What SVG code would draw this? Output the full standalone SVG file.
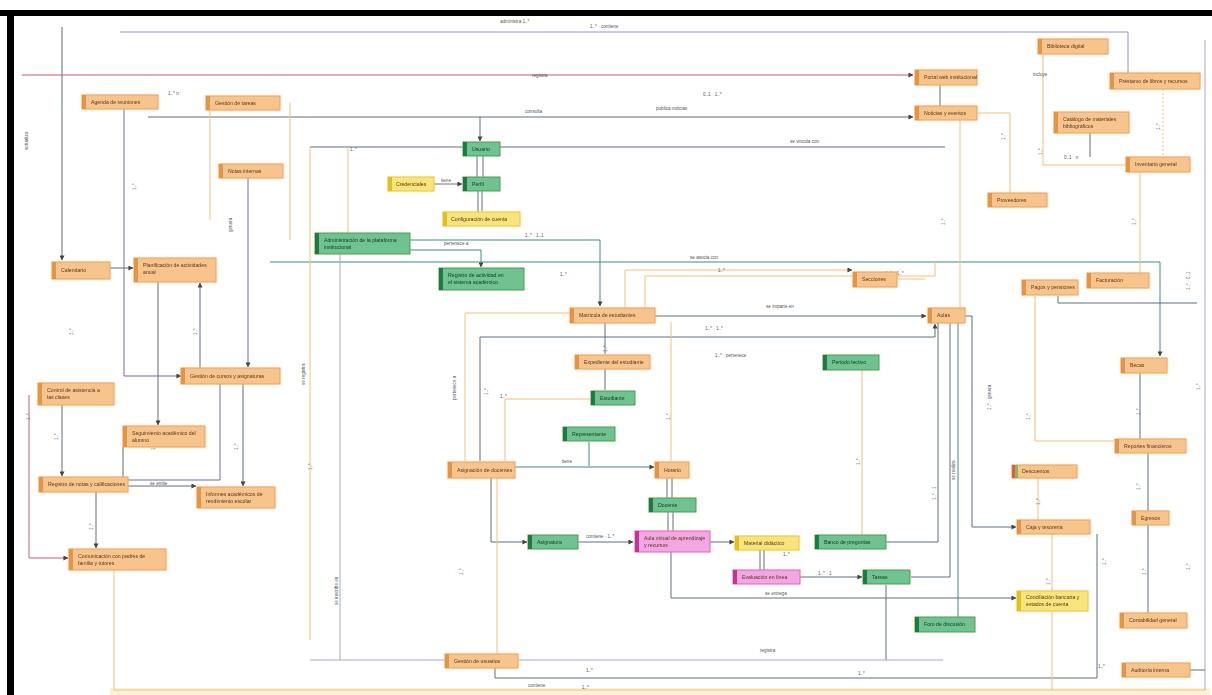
<svg xmlns="http://www.w3.org/2000/svg" width="1212" height="695" viewBox="0 0 1212 695">
<style>
.b{stroke-width:1}
.node{filter:url(#glow)}
.o .b{fill:#f7c48e;stroke:#eba35e}.o .s{fill:#e39445}
.g .b{fill:#6fc290;stroke:#3f9e66}.g .s{fill:#1f7a45}
.y .b{fill:#f8e47c;stroke:#e6cc3c}.y .s{fill:#e0bf24}
.p .b{fill:#f2a6e2;stroke:#dc66c4}.p .s{fill:#c4309c}
text{font-family:"Liberation Sans",Arial,sans-serif}
.node text{font-size:5.2px;fill:#5a3a1a}
.g text{fill:#0f3d22}
.lb{font-size:4.6px;fill:#555}
.c path{fill:none;stroke-width:1}
.sl{stroke:#5f6f80}.tl{stroke:#3f8a8a}.or{stroke:#f2c27e}.bl{stroke:#9096c2;stroke-width:1.5}.mr{stroke:#c0607a}.pu{stroke:#7a6a98}.gr{stroke:#a6acb4}.lg{stroke:#a4aac8;stroke-width:1.5}
</style>
<defs>
<marker id="a" viewBox="0 0 6 6" refX="5.5" refY="3" markerWidth="5" markerHeight="5" orient="auto"><path d="M0,0 L6,3 L0,6 z" fill="#444"/></marker>
<filter id="glow" x="-20%" y="-40%" width="140%" height="180%"><feGaussianBlur in="SourceAlpha" stdDeviation="1.5" result="bl"/><feFlood flood-color="#f6c27c" flood-opacity="0.45"/><feComposite in2="bl" operator="in" result="gl"/><feMerge><feMergeNode in="gl"/><feMergeNode in="SourceGraphic"/></feMerge></filter>
</defs>
<rect width="1212" height="695" fill="#fff"/>
<rect x="110" y="688" width="1100" height="7" fill="#fbf1d6"/>
<rect x="0" y="10" width="1212" height="6" fill="#000"/>
<rect x="7" y="10" width="7" height="685" fill="#000"/>

<g id="connectors" class="c">
<path class="bl" d="M120,32 H1128 V73"/>
<path class="mr" d="M22,75 H913" marker-end="url(#a)"/>
<path class="sl" d="M62,27 V260" marker-end="url(#a)"/>
<path class="sl" d="M148,117 H913" marker-end="url(#a)"/>
<path class="sl" d="M480,117 V141" marker-end="url(#a)"/>
<path class="sl" d="M310,147 H945"/>
<path class="sl" d="M477,156 V177 M483,156 V177"/>
<path class="pu" d="M434,184 H462" marker-end="url(#a)"/>
<path class="sl" d="M478,191 V212 M482,191 V211"/>
<path class="or" d="M348,233 V147"/>
<path class="tl" d="M410,240 H600 V306" marker-end="url(#a)"/>
<path class="tl" d="M410,250 H481 V267" marker-end="url(#a)"/>
<path class="tl" d="M270,262 H1160 V356" marker-end="url(#a)"/>
<path class="sl" d="M655,316 H926" marker-end="url(#a)"/>
<path class="sl" d="M480,461 V337 H935 V324" marker-end="url(#a)"/>
<path class="sl" d="M605,323 V354 M605,369 V390"/>
<path class="or" d="M592,399 H505 V461"/>
<path class="tl" d="M589,442 V466 M515,467 H654" marker-end="url(#a)"/>
<path class="or" d="M671,322 V461"/>
<path class="sl" d="M667,478 V498 M672,478 V498 M668,512 V531 M673,512 V531"/>
<path class="sl" d="M491,478 V542 H527" marker-end="url(#a)"/>
<path class="sl" d="M578,542 H633" marker-end="url(#a)"/>
<path class="sl" d="M710,542 H734" marker-end="url(#a)"/>
<path class="sl" d="M760,550 V570 M764,550 V570"/>
<path class="sl" d="M800,577 H862" marker-end="url(#a)"/>
<path class="sl" d="M671,552 V598 H1016" marker-end="url(#a)"/>
<path class="sl" d="M886,585 V660"/>
<path class="or" d="M862,370 V535"/>
<path class="sl" d="M886,542 H938 V323"/>
<path class="sl" d="M911,577 H950 V323"/>
<path class="tl" d="M958,617 V323"/>
<path class="or" d="M497,478 V654"/>
<path class="lg" d="M310,660 H943"/>
<path class="sl" d="M495,668 V678 H1097 V534"/>
<path class="gr" d="M340,254 V660"/>
<path class="or" d="M310,147 V640"/>
<path class="sl" d="M940,85 V106"/>
<path class="or" d="M960,120 V308"/>
<path class="or" d="M977,113 H1010 V193"/>
<path class="or" d="M1043,54 V165 H1126"/>
<path class="sl" d="M1090,133 V157"/>
<path class="or" d="M1163,89 V157" stroke-dasharray="2 2"/>
<path class="or" d="M1140,172 V273"/>
<path class="sl" d="M1197,303 H1058 V296"/>
<path class="or" d="M1035,296 V441 H1114"/>
<path class="sl" d="M1140,373 V439"/>
<path class="sl" d="M1148,453 V511 M1148,525 V613"/>
<path class="gr" d="M1205,40 V690"/>
<path class="or" d="M1038,478 V520"/>
<path class="or" d="M1052,534 V591 M1052,611 V690"/>
<path class="sl" d="M965,316 H972 V527 H1016" marker-end="url(#a)"/>
<path class="sl" d="M1190,670 H1205"/>
<path class="or" d="M114,570 V690 H1205"/>
<path class="pu" d="M124,108 V376 H181" marker-end="url(#a)"/>
<path class="or" d="M210,110 V220"/>
<path class="or" d="M290,103 V240"/>
<path class="pu" d="M248,178 V367" marker-end="url(#a)"/>
<path class="sl" d="M110,268 H133" marker-end="url(#a)"/>
<path class="sl" d="M158,282 V425" marker-end="url(#a)"/>
<path class="sl" d="M200,368 V283" marker-end="url(#a)"/>
<path class="sl" d="M62,405 V476" marker-end="url(#a)"/>
<path class="mr" d="M29,395 V558 H68" marker-end="url(#a)"/>
<path class="sl" d="M96,492 V548" marker-end="url(#a)"/>
<path class="sl" d="M128,486 H196" marker-end="url(#a)"/>
<path class="sl" d="M123,447 V477"/>
<path class="pu" d="M128,480 H220 V384"/>
<path class="sl" d="M243,384 V486" marker-end="url(#a)"/>
<path class="or" d="M570,313 H465 V461"/>
<path class="or" d="M625,308 V270 H852" marker-end="url(#a)"/>
<path class="or" d="M645,308 V276 H935 V262"/>
<path class="or" d="M897,279 H925"/>
</g>

<g id="labels">
<text class="lb" x="500" y="23">administra 1..*</text>
<text class="lb" x="590" y="28">1..* · contiene</text>
<text class="lb" x="532" y="77">registra</text>
<text class="lb" x="168" y="95">1..* n</text>
<text class="lb" x="525" y="113">consulta</text>
<text class="lb" x="656" y="110">publica noticias</text>
<text class="lb" x="703" y="96">0..1 · 1..*</text>
<text class="lb" x="790" y="143">se vincula con</text>
<text class="lb" x="350" y="151">1..*</text>
<text class="lb" x="441" y="182">tiene</text>
<text class="lb" x="444" y="245">pertenece a</text>
<text class="lb" x="525" y="237">1..* · 1..1</text>
<text class="lb" x="690" y="259">se asocia con</text>
<text class="lb" x="718" y="272">1..*</text>
<text class="lb" x="885" y="275">0..1 · 1..*</text>
<text class="lb" x="560" y="276">1..*</text>
<text class="lb" x="766" y="308">se imparte en</text>
<text class="lb" x="705" y="330">1..* · 1..*</text>
<text class="lb" x="715" y="357">1..* · pertenece</text>
<text class="lb" x="500" y="398">1..*</text>
<text class="lb" x="562" y="463">tiene</text>
<text class="lb" x="586" y="538">contiene · 1..*</text>
<text class="lb" x="783" y="556">1..*</text>
<text class="lb" x="818" y="575">1..* · 1</text>
<text class="lb" x="765" y="595">se entrega</text>
<text class="lb" x="1064" y="159">0..1 · n</text>
<text class="lb" x="1033" y="76">incluye</text>
<text class="lb" x="760" y="652">registra</text>
<text class="lb" x="586" y="672">1..*</text>
<text class="lb" x="528" y="687">contiene</text>
<text class="lb" x="858" y="675">1..*</text>
<text class="lb" x="150" y="485">se emite</text>
<text class="lb" x="582" y="689">1..*</text>
<text class="lb" x="1098" y="668">1..*</text>
<text class="lb" transform="translate(28,150) rotate(-90)">actualiza</text>
<text class="lb" transform="translate(136,190) rotate(-90)">1..*</text>
<text class="lb" transform="translate(232,232) rotate(-90)">genera</text>
<text class="lb" transform="translate(73,335) rotate(-90)">1..*</text>
<text class="lb" transform="translate(197,335) rotate(-90)">1..*</text>
<text class="lb" transform="translate(305,385) rotate(-90)">se registra</text>
<text class="lb" transform="translate(30,420) rotate(-90)">1..*</text>
<text class="lb" transform="translate(58,440) rotate(-90)">1..*</text>
<text class="lb" transform="translate(93,530) rotate(-90)">1..*</text>
<text class="lb" transform="translate(238,450) rotate(-90)">1..*</text>
<text class="lb" transform="translate(155,450) rotate(-90)">1..*</text>
<text class="lb" transform="translate(312,470) rotate(-90)">1..*</text>
<text class="lb" transform="translate(338,605) rotate(-90)">se inscribe en</text>
<text class="lb" transform="translate(456,400) rotate(-90)">pertenece a</text>
<text class="lb" transform="translate(488,395) rotate(-90)">1..*</text>
<text class="lb" transform="translate(607,352) rotate(-90)">1..*</text>
<text class="lb" transform="translate(670,420) rotate(-90)">1..*</text>
<text class="lb" transform="translate(463,575) rotate(-90)">1..*</text>
<text class="lb" transform="translate(860,465) rotate(-90)">1..*</text>
<text class="lb" transform="translate(936,500) rotate(-90)">1..* · 1</text>
<text class="lb" transform="translate(955,480) rotate(-90)">se realiza</text>
<text class="lb" transform="translate(945,225) rotate(-90)">1..*</text>
<text class="lb" transform="translate(1005,140) rotate(-90)">1..*</text>
<text class="lb" transform="translate(1042,155) rotate(-90)">1..*</text>
<text class="lb" transform="translate(1160,130) rotate(-90)">1..*</text>
<text class="lb" transform="translate(1136,225) rotate(-90)">1..*</text>
<text class="lb" transform="translate(991,410) rotate(-90)">1..* · genera</text>
<text class="lb" transform="translate(1030,420) rotate(-90)">1..*</text>
<text class="lb" transform="translate(1140,415) rotate(-90)">1..*</text>
<text class="lb" transform="translate(1140,490) rotate(-90)">1..*</text>
<text class="lb" transform="translate(1146,575) rotate(-90)">1..*</text>
<text class="lb" transform="translate(1040,505) rotate(-90)">1..*</text>
<text class="lb" transform="translate(1050,585) rotate(-90)">1..*</text>
<text class="lb" transform="translate(1106,565) rotate(-90)">1..*</text>
<text class="lb" transform="translate(1190,290) rotate(-90)">1..* · 0..1</text>
<text class="lb" transform="translate(1200,390) rotate(-90)">1..*</text>
<text class="lb" transform="translate(1190,570) rotate(-90)">1..*</text>
</g>

<g id="n1" class="node o"><rect class="b" x="82" y="95" width="76" height="14"/><rect class="s" x="82" y="95" width="4" height="14"/><text x="91" y="104">Agenda de reuniones</text></g>
<g id="n2" class="node o"><rect class="b" x="206" y="96" width="74" height="14"/><rect class="s" x="206" y="96" width="4" height="14"/><text x="215" y="105">Gestión de tareas</text></g>
<g id="n3" class="node o"><rect class="b" x="219" y="164" width="64" height="14"/><rect class="s" x="219" y="164" width="4" height="14"/><text x="228" y="173">Notas internas</text></g>
<g id="n4" class="node g"><rect class="b" x="463" y="142" width="37" height="14"/><rect class="s" x="463" y="142" width="4" height="14"/><text x="472" y="151">Usuario</text></g>
<g id="n5" class="node g"><rect class="b" x="463" y="177" width="37" height="14"/><rect class="s" x="463" y="177" width="4" height="14"/><text x="472" y="186">Perfil</text></g>
<g id="n6" class="node y"><rect class="b" x="388" y="177" width="46" height="14"/><rect class="s" x="388" y="177" width="4" height="14"/><text x="396" y="186">Credenciales</text></g>
<g id="n7" class="node y"><rect class="b" x="443" y="212" width="77" height="14"/><rect class="s" x="443" y="212" width="4" height="14"/><text x="451" y="221">Configuración de cuenta</text></g>
<g id="n8" class="node g"><rect class="b" x="315" y="233" width="95" height="21"/><rect class="s" x="315" y="233" width="4" height="21"/><text x="324" y="242">Administración de la plataforma</text><text x="324" y="249">institucional</text></g>
<g id="n9" class="node g"><rect class="b" x="439" y="268" width="85" height="22"/><rect class="s" x="439" y="268" width="4" height="22"/><text x="448" y="277">Registro de actividad en</text><text x="448" y="284">el sistema académico</text></g>
<g id="n10" class="node o"><rect class="b" x="52" y="262" width="58" height="17"/><rect class="s" x="52" y="262" width="4" height="17"/><text x="61" y="272">Calendario</text></g>
<g id="n11" class="node o"><rect class="b" x="134" y="258" width="82" height="24"/><rect class="s" x="134" y="258" width="4" height="24"/><text x="143" y="267">Planificación de actividades</text><text x="143" y="274">anual</text></g>
<g id="n12" class="node o"><rect class="b" x="181" y="368" width="99" height="16"/><rect class="s" x="181" y="368" width="4" height="16"/><text x="190" y="378">Gestión de cursos y asignaturas</text></g>
<g id="n13" class="node o"><rect class="b" x="38" y="383" width="76" height="22"/><rect class="s" x="38" y="383" width="4" height="22"/><text x="47" y="392">Control de asistencia a</text><text x="47" y="399">las clases</text></g>
<g id="n14" class="node o"><rect class="b" x="123" y="426" width="82" height="21"/><rect class="s" x="123" y="426" width="4" height="21"/><text x="132" y="435">Seguimiento académico del</text><text x="132" y="442">alumno</text></g>
<g id="n15" class="node o"><rect class="b" x="39" y="477" width="89" height="15"/><rect class="s" x="39" y="477" width="4" height="15"/><text x="48" y="486">Registro de notas y calificaciones</text></g>
<g id="n16" class="node o"><rect class="b" x="197" y="487" width="78" height="21"/><rect class="s" x="197" y="487" width="4" height="21"/><text x="206" y="496">Informes académicos de</text><text x="206" y="503">rendimiento escolar</text></g>
<g id="n17" class="node o"><rect class="b" x="69" y="549" width="97" height="21"/><rect class="s" x="69" y="549" width="4" height="21"/><text x="78" y="558">Comunicación con padres de</text><text x="78" y="565">familia y tutores</text></g>
<g id="n18" class="node o"><rect class="b" x="570" y="308" width="85" height="15"/><rect class="s" x="570" y="308" width="4" height="15"/><text x="579" y="317">Matrícula de estudiantes</text></g>
<g id="n19" class="node o"><rect class="b" x="575" y="355" width="75" height="14"/><rect class="s" x="575" y="355" width="4" height="14"/><text x="584" y="364">Expediente del estudiante</text></g>
<g id="n20" class="node g"><rect class="b" x="591" y="391" width="44" height="14"/><rect class="s" x="591" y="391" width="4" height="14"/><text x="600" y="400">Estudiante</text></g>
<g id="n21" class="node g"><rect class="b" x="563" y="427" width="52" height="14"/><rect class="s" x="563" y="427" width="4" height="14"/><text x="572" y="436">Representante</text></g>
<g id="n22" class="node o"><rect class="b" x="448" y="462" width="67" height="16"/><rect class="s" x="448" y="462" width="4" height="16"/><text x="457" y="472">Asignación de docentes</text></g>
<g id="n23" class="node o"><rect class="b" x="655" y="462" width="34" height="16"/><rect class="s" x="655" y="462" width="4" height="16"/><text x="664" y="472">Horario</text></g>
<g id="n24" class="node g"><rect class="b" x="649" y="498" width="47" height="14"/><rect class="s" x="649" y="498" width="4" height="14"/><text x="658" y="507">Docente</text></g>
<g id="n25" class="node g"><rect class="b" x="528" y="535" width="50" height="14"/><rect class="s" x="528" y="535" width="4" height="14"/><text x="537" y="544">Asignatura</text></g>
<g id="n26" class="node p"><rect class="b" x="635" y="531" width="75" height="21"/><rect class="s" x="635" y="531" width="4" height="21"/><text x="644" y="540">Aula virtual de aprendizaje</text><text x="644" y="547">y recursos</text></g>
<g id="n27" class="node y"><rect class="b" x="735" y="536" width="64" height="14"/><rect class="s" x="735" y="536" width="4" height="14"/><text x="744" y="545">Material didáctico</text></g>
<g id="n28" class="node p"><rect class="b" x="733" y="570" width="67" height="14"/><rect class="s" x="733" y="570" width="4" height="14"/><text x="742" y="579">Evaluación en línea</text></g>
<g id="n29" class="node g"><rect class="b" x="815" y="535" width="71" height="14"/><rect class="s" x="815" y="535" width="4" height="14"/><text x="824" y="544">Banco de preguntas</text></g>
<g id="n30" class="node g"><rect class="b" x="863" y="570" width="47" height="14"/><rect class="s" x="863" y="570" width="4" height="14"/><text x="872" y="579">Tareas</text></g>
<g id="n31" class="node g"><rect class="b" x="915" y="617" width="60" height="15"/><rect class="s" x="915" y="617" width="4" height="15"/><text x="924" y="626">Foro de discusión</text></g>
<g id="n32" class="node g"><rect class="b" x="823" y="355" width="56" height="15"/><rect class="s" x="823" y="355" width="4" height="15"/><text x="832" y="364">Periodo lectivo</text></g>
<g id="n33" class="node o"><rect class="b" x="853" y="272" width="44" height="15"/><rect class="s" x="853" y="272" width="4" height="15"/><text x="862" y="281">Secciones</text></g>
<g id="n34" class="node o"><rect class="b" x="928" y="308" width="37" height="15"/><rect class="s" x="928" y="308" width="4" height="15"/><text x="937" y="317">Aulas</text></g>
<g id="n35" class="node o"><rect class="b" x="915" y="70" width="62" height="15"/><rect class="s" x="915" y="70" width="4" height="15"/><text x="924" y="79">Portal web institucional</text></g>
<g id="n36" class="node o"><rect class="b" x="915" y="106" width="62" height="14"/><rect class="s" x="915" y="106" width="4" height="14"/><text x="924" y="115">Noticias y eventos</text></g>
<g id="n37" class="node o"><rect class="b" x="1038" y="39" width="70" height="15"/><rect class="s" x="1038" y="39" width="4" height="15"/><text x="1047" y="48">Biblioteca digital</text></g>
<g id="n38" class="node o"><rect class="b" x="1110" y="73" width="90" height="16"/><rect class="s" x="1110" y="73" width="4" height="16"/><text x="1119" y="83">Préstamo de libros y recursos</text></g>
<g id="n39" class="node o"><rect class="b" x="1054" y="112" width="75" height="21"/><rect class="s" x="1054" y="112" width="4" height="21"/><text x="1063" y="121">Catálogo de materiales</text><text x="1063" y="128">bibliográficos</text></g>
<g id="n40" class="node o"><rect class="b" x="1126" y="157" width="64" height="15"/><rect class="s" x="1126" y="157" width="4" height="15"/><text x="1135" y="166">Inventario general</text></g>
<g id="n41" class="node o"><rect class="b" x="988" y="193" width="59" height="14"/><rect class="s" x="988" y="193" width="4" height="14"/><text x="997" y="202">Proveedores</text></g>
<g id="n42" class="node o"><rect class="b" x="1022" y="280" width="56" height="15"/><rect class="s" x="1022" y="280" width="4" height="15"/><text x="1031" y="289">Pagos y pensiones</text></g>
<g id="n43" class="node o"><rect class="b" x="1087" y="273" width="62" height="15"/><rect class="s" x="1087" y="273" width="4" height="15"/><text x="1096" y="282">Facturación</text></g>
<g id="n44" class="node o"><rect class="b" x="1121" y="358" width="46" height="15"/><rect class="s" x="1121" y="358" width="4" height="15"/><text x="1130" y="367">Becas</text></g>
<g id="n45" class="node o"><rect class="b" x="1115" y="439" width="71" height="14"/><rect class="s" x="1115" y="439" width="4" height="14"/><text x="1124" y="448">Reportes financieros</text></g>
<g id="n46" class="node o"><rect class="b" x="1012" y="465" width="65" height="13"/><rect x="1012" y="465" width="3" height="13" fill="#e05a3a"/><rect x="1015" y="465" width="3" height="13" fill="#7bbf5a"/><text x="1022" y="473">Descuentos</text></g>
<g id="n47" class="node o"><rect class="b" x="1017" y="520" width="73" height="14"/><rect class="s" x="1017" y="520" width="4" height="14"/><text x="1026" y="529">Caja y tesorería</text></g>
<g id="n48" class="node y"><rect class="b" x="1017" y="591" width="71" height="20"/><rect class="s" x="1017" y="591" width="4" height="20"/><text x="1026" y="599">Conciliación bancaria y</text><text x="1026" y="606">estados de cuenta</text></g>
<g id="n49" class="node o"><rect class="b" x="1132" y="511" width="37" height="14"/><rect class="s" x="1132" y="511" width="4" height="14"/><text x="1141" y="520">Egresos</text></g>
<g id="n50" class="node o"><rect class="b" x="1120" y="613" width="67" height="15"/><rect class="s" x="1120" y="613" width="4" height="15"/><text x="1129" y="622">Contabilidad general</text></g>
<g id="n51" class="node o"><rect class="b" x="1122" y="663" width="68" height="14"/><rect class="s" x="1122" y="663" width="4" height="14"/><text x="1131" y="672">Auditoría interna</text></g>
<g id="n52" class="node o"><rect class="b" x="445" y="654" width="73" height="14"/><rect class="s" x="445" y="654" width="4" height="14"/><text x="454" y="663">Gestión de usuarios</text></g>
</svg>
